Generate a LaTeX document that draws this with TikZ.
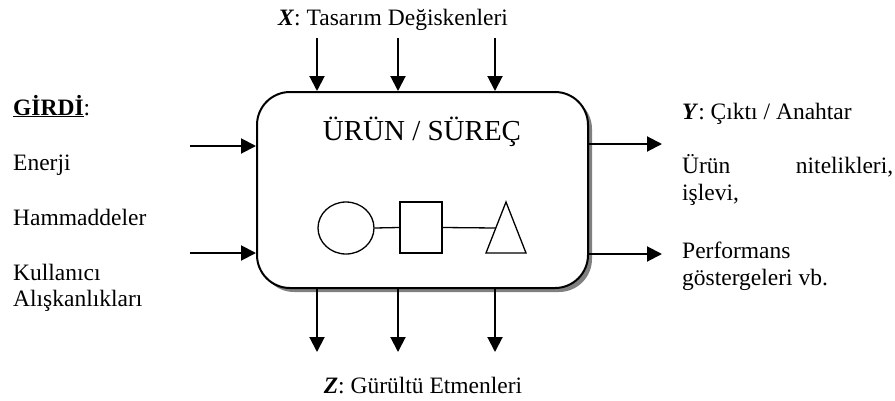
\documentclass[tikz,border=0pt]{standalone}
\usepackage{fontspec}
\setmainfont{Liberation Serif}
\usetikzlibrary{arrows.meta,shapes.geometric,shadows}
\begin{document}
\begin{tikzpicture}[x=1pt,y=-1pt,
  txt/.style={inner sep=0pt,font=\fontsize{23.5}{26}\selectfont},
  arr/.style={line width=2pt,-{Triangle[width=15pt,length=15pt]}},
  fig/.style={draw,line width=1.3pt,inner sep=0pt},
  mainbox/.style={draw,line width=2pt,fill=white,rounded corners=33pt,
    minimum width=331pt,minimum height=196pt,inner sep=0pt,
    drop shadow={shadow xshift=4pt,shadow yshift=-4pt,fill=black!50,opacity=1}}]
\useasboundingbox (0,0) rectangle (895,400);
% main box
\node[mainbox] (box) at (422.5,190) {};
\node[inner sep=0pt,anchor=base,font=\fontsize{29}{34}\selectfont] (title) at (422,140) {ÜRÜN / SÜREÇ};
% inner figures
\node[fig,ellipse,minimum width=56pt,minimum height=52pt] (circ) at (346,228) {};
\node[fig,rectangle,minimum width=42pt,minimum height=51pt] (sq) at (421,227.5) {};
\draw[line width=1.3pt] (506,202) -- (526,253) -- (486,253) -- cycle;
\coordinate (trileft) at (495.8,228);
\draw[line width=1.3pt] (circ.east) -- (sq.west);
\draw[line width=1.3pt] (sq.east) -- (trileft);
% top
\node[txt,anchor=base] (xlab) at (393,25) {\textbf{\textit{X}}: Tasarım Değiskenleri};
\coordinate (x1) at (317,38);
\coordinate (x2) at (398,38);
\coordinate (x3) at (495,38);
\foreach \c in {x1,x2,x3} \draw[arr] (\c) -- (\c |- box.north);
% bottom
\coordinate (z1) at (317,352);
\coordinate (z2) at (398,352);
\coordinate (z3) at (495,352);
\foreach \c in {z1,z2,z3} \draw[arr] (\c |- box.south) -- (\c);
\node[txt,anchor=base] (zlab) at (423,393) {\textbf{\textit{Z}}: Gürültü Etmenleri};
% left
\node[txt,anchor=base west] (girdi) at (13,115) {\textbf{\underline{GİRDİ}}:};
\node[txt,anchor=base west] (enerji) at (13,170) {Enerji};
\node[txt,anchor=base west] (ham) at (13,225) {Hammaddeler};
\node[txt,anchor=base west] (kul) at (13,280) {Kullanıcı};
\node[txt,anchor=base west] (alis) at (13,306) {Alışkanlıkları};
\coordinate (l1) at (190,146);
\coordinate (l2) at (190,253);
\draw[arr] (l1) -- (l1 -| box.west);
\draw[arr] (l2) -- (l2 -| box.west);
% right
\coordinate (r1) at (662,144);
\coordinate (r2) at (662,254);
\draw[arr] (r1 -| box.east) -- (r1);
\draw[arr] (r2 -| box.east) -- (r2);
\node[txt,anchor=base west] (ylab) at (682,119) {\textbf{\textit{Y}}: Çıktı / Anahtar};
\node[txt,anchor=base west] (urun) at (682,173) {\makebox[211pt][s]{Ürün\hfill nitelikleri,}};
\node[txt,anchor=base west] (islev) at (682,200) {işlevi,};
\node[txt,anchor=base west] (perf) at (682,258) {Performans};
\node[txt,anchor=base west] (gost) at (682,285) {göstergeleri vb.};
\end{tikzpicture}
\end{document}
